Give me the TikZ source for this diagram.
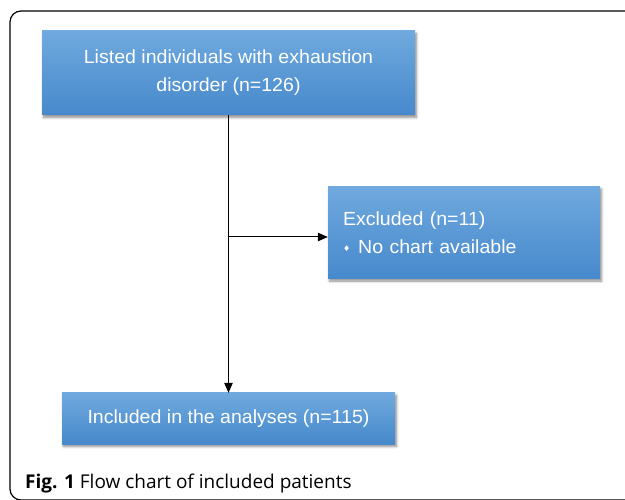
\documentclass[tikz,border=0pt]{standalone}
\usepackage{fontspec}
\setmainfont{Liberation Sans}
\newfontfamily\boxfont[FakeStretch=1.03]{Liberation Sans}
\newfontfamily\capfont{Open Sans}
\newfontfamily\symfont{DejaVu Sans}
\usetikzlibrary{arrows.meta,shadows.blur}
\definecolor{boxtop}{RGB}{112,169,222}
\definecolor{boxbot}{RGB}{70,137,204}
\tikzset{
  flowbox/.style={draw=none, rectangle, top color=boxtop, bottom color=boxbot,
    text=white, font=\boxfont\fontsize{19}{28}\selectfont, inner sep=0pt,
    blur shadow={shadow xshift=1.5pt, shadow yshift=-2.5pt, shadow blur steps=6, shadow blur radius=2.5pt, shadow opacity=45}},
  conn/.style={line width=1pt, -{Triangle[length=10pt,width=8.5pt]}},
  frameline/.style={line width=1.2pt, rounded corners=11pt}
}
\begin{document}
\begin{tikzpicture}[x=1pt,y=-1pt]
\useasboundingbox (0,0) rectangle (625,500);
\clip (0,0) rectangle (625,500);
\draw[frameline] (640,11) -- (10,11) -- (10,500) -- (640,500);
\node[flowbox, minimum width=373pt, minimum height=84pt, align=center] (top) at (228.5,73)
  {Listed individuals with exhaustion\\disorder (n=126)};
\node[flowbox, minimum width=272pt, minimum height=92pt, align=left, text width=242pt, inner xsep=15pt] (excl) at (464,232.5)
  {Excluded (n=11)\\{\symfont\fontsize{8}{8}\selectfont\raisebox{2pt}{♦}}\hspace{8pt}No chart available};
\node[flowbox, minimum width=333pt, minimum height=51pt] (incl) at (228.5,418.5)
  {Included in the analyses (n=115)};
\coordinate (split) at (228.5,237);
\draw[conn] (top.south) -- (incl.north);
\draw[conn] (split) -- (split -| excl.west);
\node[anchor=base west, inner sep=0pt, font=\capfont\fontsize{19}{22}\selectfont] (cap) at (25,489)
  {\textbf{Fig. 1} Flow chart of included patients};
\end{tikzpicture}
\end{document}
